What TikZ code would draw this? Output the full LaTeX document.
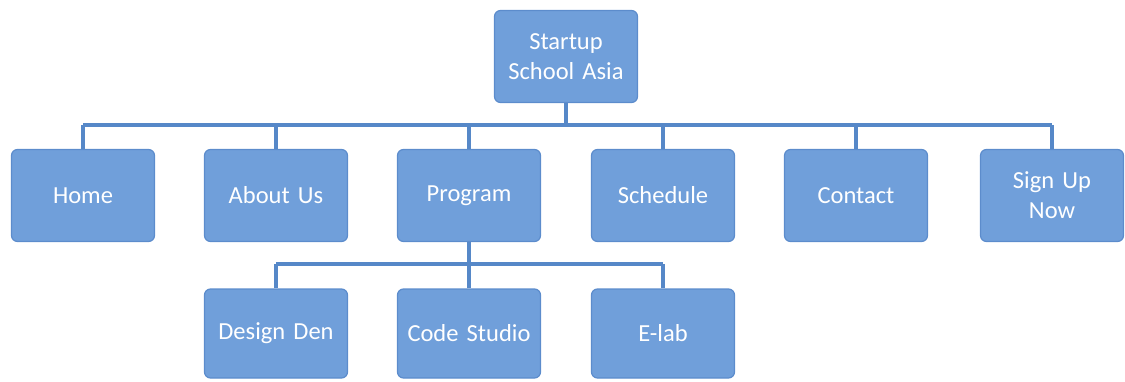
\documentclass[tikz,border=0pt]{standalone}
\usepackage{fontspec}
\setmainfont{Carlito}[WordSpace=0.85]
\definecolor{boxfill}{RGB}{112,159,218}
\definecolor{boxedge}{RGB}{92,140,204}
\definecolor{linkcol}{RGB}{86,136,200}
\tikzset{
  pagebox/.style={draw=boxedge, line width=1.2pt, fill=boxfill, rounded corners=6pt,
    minimum width=143pt, minimum height=92pt, text width=141pt, align=center,
    text=white, font=\fontsize{24.5}{30}\selectfont, inner sep=0pt},
  link/.style={draw=linkcol, line width=4.5pt}
}
\begin{document}
\begin{tikzpicture}[x=1pt,y=-1pt]
\useasboundingbox (0,0) rectangle (1125,381);
\node[pagebox] (top) at (566,56.5) {Startup\\School Asia};
\node[pagebox] (home) at (83,195.5) {Home};
\node[pagebox] (about) at (276,195.5) {About Us};
\node[pagebox] (program) at (469,195.5) {Program};
\node[pagebox] (schedule) at (663,195.5) {Schedule};
\node[pagebox] (contact) at (856,195.5) {Contact};
\node[pagebox] (signup) at (1052,195.5) {Sign Up\\Now};
\node[pagebox, minimum height=89pt] (design) at (276,333.5) {Design Den};
\node[pagebox, minimum height=89pt] (code) at (469,333.5) {Code Studio};
\node[pagebox, minimum height=89pt] (elab) at (663,333.5) {E-lab};
\coordinate (busA) at (566,125);
\coordinate (busB) at (469,264);
\draw[link] (home.north |- busA) -- (signup.north |- busA);
\draw[link] (top.south) -- (busA);
\foreach \n in {home,about,program,schedule,contact,signup}
  \draw[link] (\n.north) -- (\n.north |- busA);
\draw[link] (design.north |- busB) -- (elab.north |- busB);
\draw[link] (program.south) -- (busB);
\foreach \n in {design,code,elab}
  \draw[link] (\n.north) -- (\n.north |- busB);
\end{tikzpicture}
\end{document}
